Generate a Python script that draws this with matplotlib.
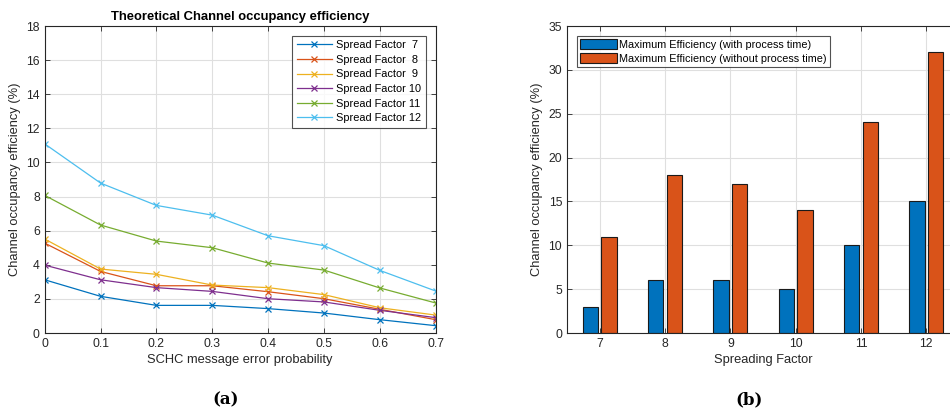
import matplotlib
matplotlib.use("Agg")
import matplotlib.pyplot as plt
import numpy as np

plt.rcParams['font.family'] = ['Liberation Sans', 'DejaVu Sans']

# ---- data (a) ----
err_prob = [0, 0.1, 0.2, 0.3, 0.4, 0.5, 0.6, 0.7]
sf7 = [3.12, 2.15, 1.62, 1.62, 1.43, 1.17, 0.78, 0.43]
sf8 = [5.27, 3.61, 2.77, 2.77, 2.42, 2.01, 1.39, 0.78]
sf9 = [5.51, 3.75, 3.44, 2.81, 2.66, 2.25, 1.48, 1.05]
sf10 = [3.98, 3.12, 2.66, 2.44, 2.01, 1.82, 1.33, 0.90]
sf11 = [8.07, 6.33, 5.39, 5.00, 4.10, 3.69, 2.64, 1.76]
sf12 = [11.09, 8.79, 7.48, 6.91, 5.70, 5.12, 3.67, 2.46]
line_labels = ['Spread Factor  7', 'Spread Factor  8', 'Spread Factor  9',
               'Spread Factor 10', 'Spread Factor 11', 'Spread Factor 12']

# ---- data (b) ----
spreading_factors = ['7', '8', '9', '10', '11', '12']
eff_with_proc = [3, 6, 6, 5, 10, 15]
eff_without_proc = [11, 18, 17, 14, 24, 32]
bar_labels = ['Maximum Efficiency (with process time)',
              'Maximum Efficiency (without process time)']

colors = ['#0072BD', '#D95319', '#EDB120', '#7E2F8E', '#77AC30', '#4DBEEE']
axcol = '#262626'
W, H = 950, 409

fig = plt.figure(figsize=(9.5, 4.09), dpi=100)

def style(ax):
    ax.grid(True, color='#DFDFDF', linewidth=0.8)
    ax.set_axisbelow(True)
    for s in ax.spines.values():
        s.set_color(axcol)
        s.set_linewidth(0.8)
    ax.tick_params(direction='in', top=True, right=True, length=3.5,
                   width=0.6, color=axcol, labelcolor=axcol, labelsize=8.7)

# ---- (a) ----
ax1 = fig.add_axes([44.7 / W, (H - 333) / H, (435.7 - 44.7) / W, (333 - 26) / H])
for ys, c, lab in zip([sf7, sf8, sf9, sf10, sf11, sf12], colors, line_labels):
    ax1.plot(err_prob, ys, color=c, marker='x', markersize=4, linewidth=0.9,
             markeredgewidth=0.9, label=lab)
ax1.set_xlim(0, 0.7)
ax1.set_ylim(0, 18)
ax1.set_xticks(err_prob)
ax1.set_xticklabels(['0', '0.1', '0.2', '0.3', '0.4', '0.5', '0.6', '0.7'])
ax1.set_yticks(np.arange(0, 19, 2))
style(ax1)
ax1.set_title('Theoretical Channel occupancy efficiency', fontsize=9.4,
              fontweight='bold', color='black', pad=4)
ax1.set_xlabel('SCHC message error probability', fontsize=9.3, color=axcol, labelpad=3)
ax1.set_ylabel('Channel occupancy efficiency (%)', fontsize=9.3, color=axcol, labelpad=4)
leg1 = ax1.legend(loc='upper right', fontsize=7.9, frameon=True, fancybox=False,
                  edgecolor=axcol, handlelength=3.2, borderpad=0.4,
                  labelspacing=0.42, handletextpad=0.4, borderaxespad=0.9)
leg1.get_frame().set_linewidth(0.8)

# ---- (b) ----
ax2 = fig.add_axes([567 / W, (H - 333) / H, (959 - 567) / W, (333 - 26) / H])
x = np.arange(len(spreading_factors))
bw = 0.237
off = 0.143
ax2.bar(x - off, eff_with_proc, bw, color=colors[0], edgecolor='#1a1a1a',
        linewidth=0.8, label=bar_labels[0])
ax2.bar(x + off, eff_without_proc, bw, color=colors[1], edgecolor='#1a1a1a',
        linewidth=0.8, label=bar_labels[1])
ax2.set_xlim(-0.5, len(spreading_factors) - 0.5)
ax2.set_ylim(0, 35)
ax2.set_xticks(x)
ax2.set_xticklabels(spreading_factors)
ax2.set_yticks(np.arange(0, 36, 5))
style(ax2)
ax2.set_xlabel('Spreading Factor', fontsize=9.3, color=axcol, labelpad=3)
ax2.set_ylabel('Channel occupancy efficiency (%)', fontsize=9.3, color=axcol, labelpad=4)
leg2 = ax2.legend(loc='upper left', fontsize=7.8, frameon=True, fancybox=False,
                  edgecolor=axcol, handlelength=3.4, handleheight=1.0,
                  borderpad=0.3, labelspacing=0.35, handletextpad=0.2,
                  borderaxespad=0.9)
leg2.get_frame().set_linewidth(0.8)

# captions
fig.text(226 / W, 1 - 400 / H, '(a)', ha='center', va='center', fontsize=12,
         fontweight='bold', family='DejaVu Serif')
fig.text(749 / W, 1 - 400 / H, '(b)', ha='center', va='center', fontsize=12,
         fontweight='bold', family='DejaVu Serif')

fig.savefig('out.png', dpi=100, facecolor='white')
